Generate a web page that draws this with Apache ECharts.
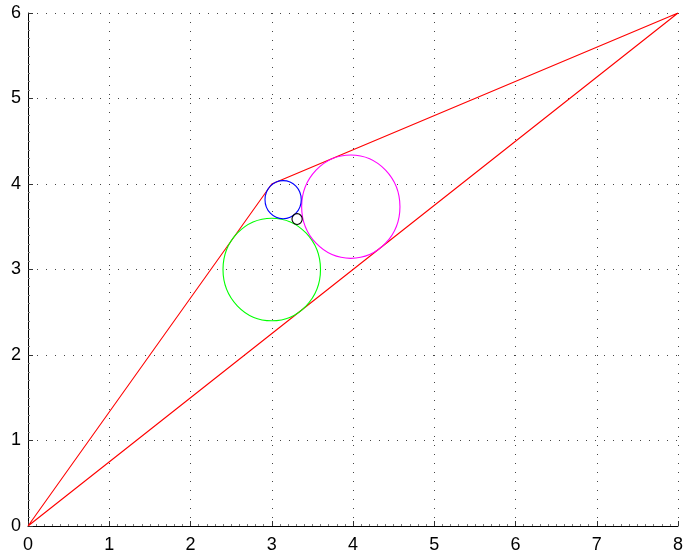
<!DOCTYPE html>
<html>
<head>
<meta charset="utf-8">
<script src="https://cdn.jsdelivr.net/npm/echarts@6/dist/echarts.min.js"></script>
<style>
html,body{margin:0;padding:0;background:#fff;}
#chart{width:688px;height:560px;}
</style>
</head>
<body>
<div id="chart"></div>
<script>
// Triangle vertices (closed path)
const triangleX = [0, 3, 8, 0];
const triangleY = [0, 4, 6, 0];
// Circles: centers and radii (data units)
const circleCX = [3.0, 3.973, 3.14, 3.312];
const circleCY = [3.0, 3.735, 3.817, 3.59];
const circleR  = [0.6, 0.605, 0.223, 0.063];
const circleColors = ['#00ff00', '#ff00ff', '#0000ff', '#000000'];
// Axis ticks
const xTicks = [0, 1, 2, 3, 4, 5, 6, 7, 8];
const yTicks = [0, 1, 2, 3, 4, 5, 6];

const triangleData = triangleX.map((x, i) => [x, triangleY[i]]);
const circleData = circleCX.map((x, i) => [x, circleCY[i], circleR[i]]);

const chart = echarts.init(document.getElementById('chart'), null, {renderer: 'canvas'});

function axisCommon(ticks) {
  return {
    type: 'value',
    min: ticks[0],
    max: ticks[ticks.length - 1],
    interval: 1,
    axisLine: {show: true, onZero: false, lineStyle: {color: '#000', width: 1}},
    axisTick: {show: true, inside: true, length: 5, lineStyle: {color: '#333', width: 1}},
    minorTick: {show: true, splitNumber: 10, length: 2, lineStyle: {color: '#777', width: 1}},
    splitLine: {show: true, lineStyle: {color: '#444', width: 1, type: [1, 8]}},
    axisLabel: {
      color: '#000',
      fontFamily: 'Liberation Sans, Arial, sans-serif',
      fontSize: 18
    }
  };
}

const xAxis = axisCommon(xTicks);
xAxis.axisLabel.margin = 10;
const yAxis = axisCommon(yTicks);
yAxis.axisLabel.margin = 7;

chart.setOption({
  animation: false,
  backgroundColor: '#fff',
  grid: {left: 28, right: 10, top: 13, bottom: 34, containLabel: false},
  xAxis: xAxis,
  yAxis: yAxis,
  series: [
    {
      type: 'line',
      data: triangleData,
      showSymbol: false,
      symbol: 'none',
      lineStyle: {color: '#ff0000', width: 1.1},
      z: 3
    },
    {
      type: 'custom',
      data: circleData,
      encode: {x: 0, y: 1},
      renderItem: function (params, api) {
        const c = api.coord([api.value(0), api.value(1)]);
        const s = api.size([api.value(2), api.value(2)]);
        return {
          type: 'ellipse',
          shape: {cx: c[0], cy: c[1], rx: s[0], ry: s[1]},
          style: {fill: 'none', stroke: circleColors[params.dataIndex], lineWidth: 1.1}
        };
      },
      z: 4
    }
  ]
});
</script>
</body>
</html>
